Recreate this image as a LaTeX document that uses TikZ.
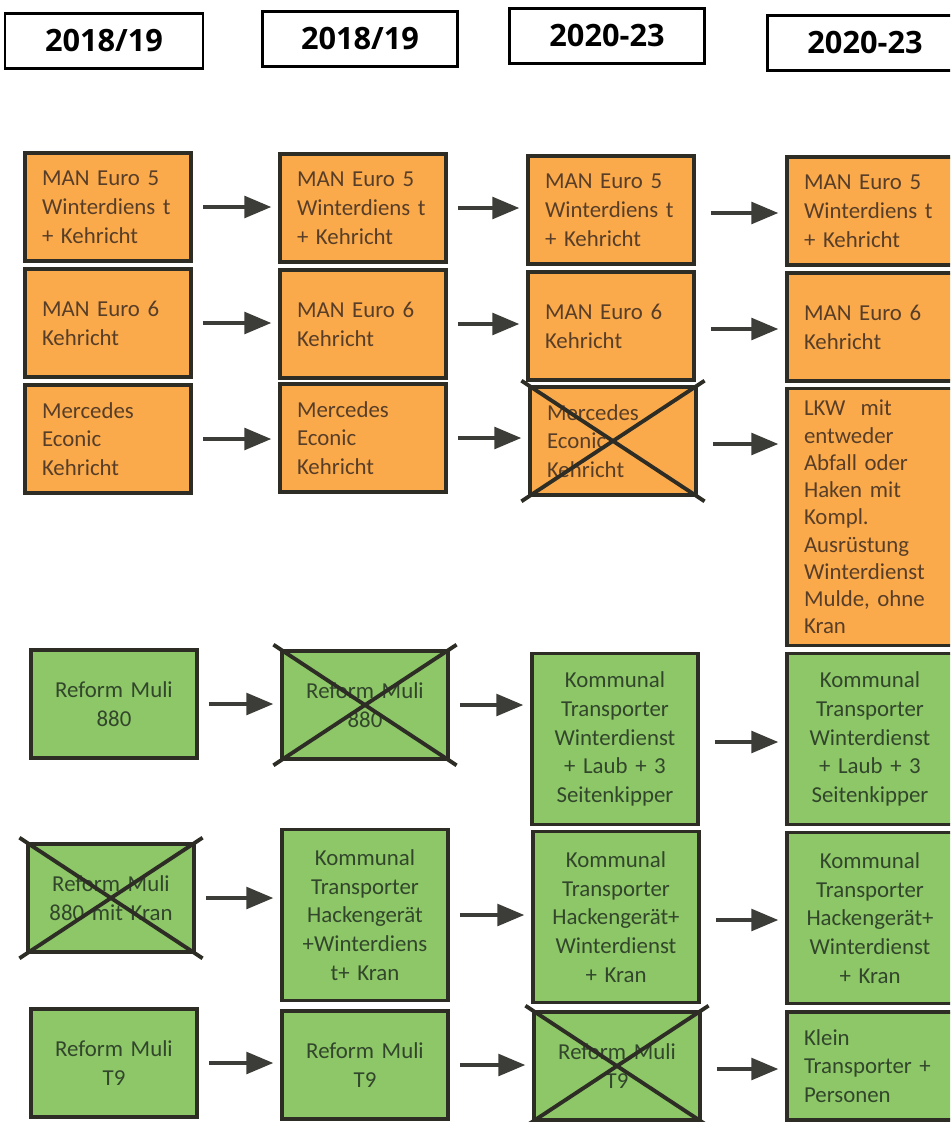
\documentclass[tikz,border=0pt]{standalone}
\usepackage{fontspec}
\setmainfont{Carlito}
\newfontfamily\headfont{Open Sans}
\usepackage{xcolor}
\usetikzlibrary{arrows}
\definecolor{orangefill}{RGB}{250,170,75}
\definecolor{greenfill}{RGB}{141,199,103}
\definecolor{orangetext}{RGB}{88,62,40}
\definecolor{greentext}{RGB}{50,70,44}
\definecolor{edgegray}{RGB}{45,45,38}
\definecolor{arrowgray}{RGB}{60,60,56}

\tikzset{
	yearbox/.style={draw=black,line width=1.2pt,minimum width=3.9cm,minimum height=1.1cm,font=\headfont\bfseries\fontsize{17.5}{20}\selectfont},
	obox/.style={draw=edgegray,line width=2.2pt,fill=orangefill,text=orangetext,minimum width=3.32cm,minimum height=2.16cm,text width=2.64cm,inner xsep=0.34cm,align=left,font=\fontsize{13}{16.4}\selectfont},
	gbox/.style={obox,fill=greenfill,text=greentext,align=center},
	tall/.style={minimum height=3.42cm},
	xout/.style={-,draw=edgegray,line width=2.2pt,shorten <=-0.16cm,shorten >=-0.16cm},
	arr/.style={line width=2.6pt,draw=arrowgray,shorten <=0.2cm,shorten >=0.14cm}
}

\begin{document}
\begin{tikzpicture}[x=0.02cm,y=-0.02cm,->,>=triangle 45]
		\useasboundingbox (0,0) rectangle (950,1122);
		\clip (0,0) rectangle (950,1122);

		% years
		\node[yearbox,minimum width=3.96cm] (h1) at (104,41) {2018/19};
		\node[yearbox] (h2) at (360,39) {2018/19};
		\node[yearbox] (h3) at (607,36) {2020-23};
		\node[yearbox] (h4) at (865,43) {2020-23};

		% lorries
		\node[obox] (b11) at (108,207) {MAN Euro 5\\Winterdiens t\\+ Kehricht};
		\node[obox] (b21) at (363,208) {MAN Euro 5\\Winterdiens t\\+ Kehricht};
		\node[obox] (b31) at (611,210) {MAN Euro 5\\Winterdiens t\\+ Kehricht};
		\node[obox] (b41) at (870,211) {MAN Euro 5\\Winterdiens t\\+ Kehricht};

		\node[obox] (b12) at (108,323) {MAN Euro 6\\Kehricht};
		\node[obox] (b22) at (363,324) {MAN Euro 6\\Kehricht};
		\node[obox] (b32) at (611,326) {MAN Euro 6\\Kehricht};
		\node[obox] (b42) at (870,327) {MAN Euro 6\\Kehricht};

		\node[obox] (b13) at (108,439) {Mercedes\\Econic\\Kehricht};
		\node[obox] (b23) at (363,438) {Mercedes\\Econic\\Kehricht};
		\node[obox] (b33) at (613,441) {Mercedes\\Econic\\Kehricht};
		\node[obox,minimum height=5.14cm,font=\fontsize{13}{15.5}\selectfont] (b43) at (870,517)
			{LKW\ \ mit\\entweder\\Abfall oder\\Haken mit\\Kompl.\\Ausrüstung\\Winterdienst\\Mulde, ohne\\Kran};

		% transporters
		\node[gbox] (b14) at (114,704) {Reform Muli\\880};
		\node[gbox] (b24) at (365,705) {Reform Muli\\880};
		\node[gbox,tall] (b34) at (615,739) {Kommunal\\Transporter\\Winterdienst\\+ Laub + 3\\Seitenkipper};
		\node[gbox,tall] (b44) at (870,739) {Kommunal\\Transporter\\Winterdienst\\+ Laub + 3\\Seitenkipper};

		\node[gbox] (b15) at (111,898) {Reform Muli\\880 mit Kran};
		\node[gbox,tall] (b25) at (365,915) {Kommunal\\Transporter\\Hackengerät\\+Winterdiens\\t+ Kran};
		\node[gbox,tall] (b35) at (616,917) {Kommunal\\Transporter\\Hackengerät+\\Winterdienst\\+ Kran};
		\node[gbox,tall] (b45) at (870,918) {Kommunal\\Transporter\\Hackengerät+\\Winterdienst\\+ Kran};

		\node[gbox] (b16) at (114,1063) {Reform Muli\\T9};
		\node[gbox] (b26) at (365,1065) {Reform Muli\\T9};
		\node[gbox] (b36) at (617,1066) {Reform Muli\\T9};
		\node[gbox,align=left] (b46) at (870,1066) {Klein\\Transporter +\\Personen};

		% crossed out
		\draw[xout] (b33.south west) -- (b33.north east);
		\draw[xout] (b33.north west) -- (b33.south east);
		\draw[xout] (b24.south west) -- (b24.north east);
		\draw[xout] (b24.north west) -- (b24.south east);
		\draw[xout] (b15.south west) -- (b15.north east);
		\draw[xout] (b15.north west) -- (b15.south east);
		\draw[xout] (b36.south west) -- (b36.north east);
		\draw[xout] (b36.north west) -- (b36.south east);

		% arrows
		\foreach \r in {1,...,6}{
			\draw[arr] (b1\r.east) -- (b1\r.east -| b2\r.west);
			\draw[arr] (b2\r.east) -- (b2\r.east -| b3\r.west);
			\draw[arr,shorten <=0.3cm] ([yshift=-0.06cm]b3\r.east) -- ([yshift=-0.06cm]b3\r.east -| b4\r.west);
		}
	\end{tikzpicture}
\end{document}
